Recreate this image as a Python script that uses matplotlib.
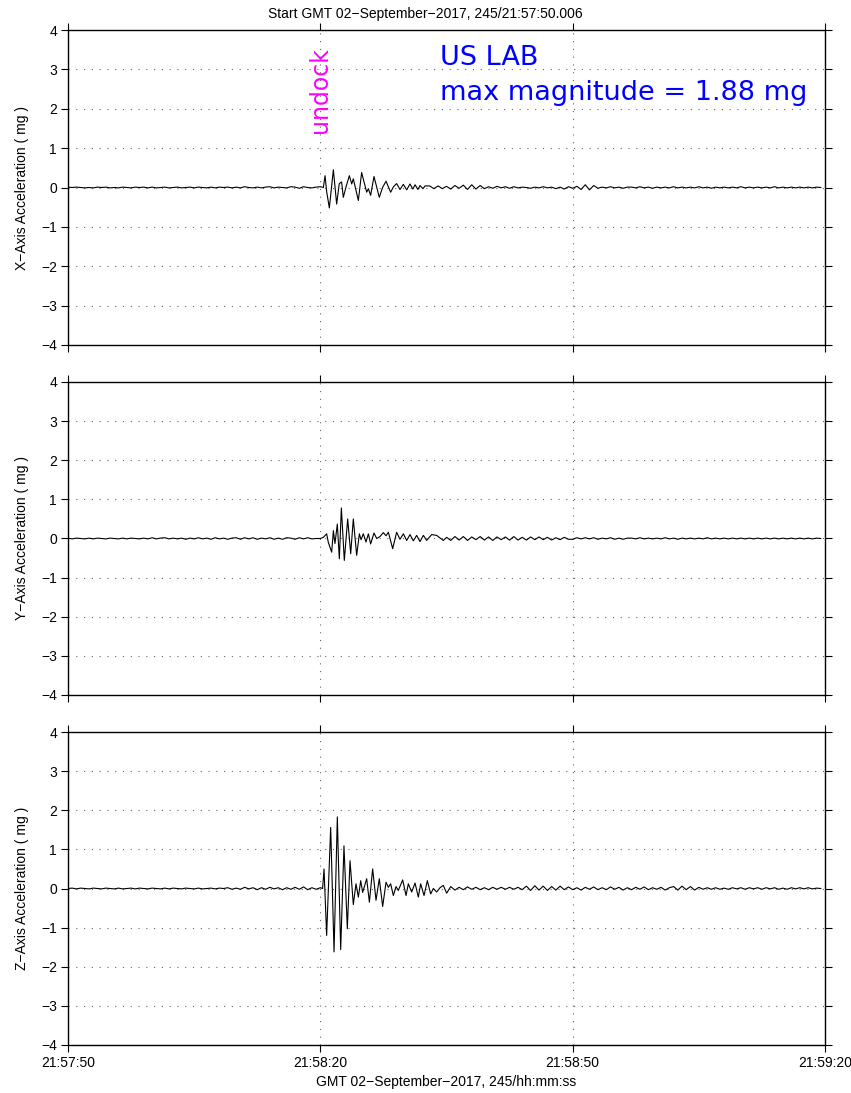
import numpy as np
import matplotlib
matplotlib.use('Agg')
import matplotlib.pyplot as plt

# seconds since 21:57:50
tick_pos = [0, 30, 60, 90]
tick_labels = ['21:57:50', '21:58:20', '21:58:50', '21:59:20']

# X axis -----------------------------------------------------------------
x_pre = [0.01, 0.00, 0.01, 0.00, -0.01, 0.00, -0.01, 0.01, 0.00, 0.01,
         -0.01, 0.00, -0.01, 0.01, 0.00, -0.01, 0.01, 0.00, 0.01, -0.01,
         0.01, -0.01, 0.00, 0.01, -0.01, 0.00, 0.01, -0.01, 0.00, 0.01,
         -0.01, 0.01, 0.00, -0.01, 0.01, -0.01, 0.01, 0.00, 0.01, -0.01,
         0.01, -0.01, 0.02, 0.00, -0.01, 0.01, -0.01, 0.01, 0.02, -0.01,
         0.01, 0.00, -0.01, 0.02, 0.01, -0.02, 0.02, 0.00, -0.01, 0.01]
x_evt_t = [30.0, 30.36, 30.56, 30.75, 31.07, 31.55, 31.94, 32.25, 32.53, 32.73,
           33.10, 33.45, 33.73, 33.92, 34.52, 34.91, 35.51, 35.71, 35.98, 36.38,
           37.01, 37.40, 37.81, 38.36, 38.70, 39.07, 39.47, 39.87, 40.27, 40.66,
           41.00, 41.26, 41.60, 41.85, 42.20, 42.45]
x_evt_v = [0.02, 0.00, 0.30, -0.10, -0.52, 0.45, -0.42, 0.10, 0.14, -0.25,
           0.05, 0.30, 0.09, 0.22, -0.33, 0.38, -0.12, -0.03, -0.20, 0.28,
           -0.25, 0.00, 0.16, -0.12, 0.02, 0.10, -0.05, 0.08, -0.06, 0.09,
           -0.04, 0.07, -0.05, 0.05, -0.03, 0.04]
x_post = [0.04, -0.03, 0.04, -0.03, 0.03, -0.04, 0.05, -0.02,
          0.06, -0.05, 0.07, -0.04, 0.05, -0.03,
          0.02, -0.02, 0.03, -0.01, 0.02, -0.02, 0.02, -0.01, 0.01, 0.00,
          -0.02, 0.01, -0.01, 0.02, -0.01, 0.01,
          -0.03, 0.01, -0.04, 0.02, -0.02, 0.03,
          -0.05, 0.07, -0.06, 0.05,
          -0.02, 0.01, -0.01, 0.02, -0.01, 0.01, -0.02, 0.01, 0.01, -0.01,
          0.02, -0.01, 0.01, -0.02, 0.01, -0.01, 0.01, -0.01, 0.02, -0.01,
          0.01, -0.01, 0.01, -0.01, 0.02, -0.01, 0.01, -0.02, 0.01, -0.01,
          0.01, -0.01, 0.01, -0.01, 0.02, -0.01, 0.01, -0.01, 0.01, -0.01,
          0.01, -0.01, 0.02, -0.01, 0.01, -0.01, 0.01, -0.01, 0.01, -0.01,
          0.01, -0.01, 0.01, 0.00]

# Y axis -----------------------------------------------------------------
y_pre = [0.01, -0.01, 0.01, 0.00, -0.01, 0.01, -0.01, 0.01, 0.00, -0.01,
         0.01, 0.00, -0.01, 0.01, -0.01, 0.01, 0.00, -0.01, 0.01, -0.01,
         0.02, -0.01, 0.01, 0.02, -0.01, 0.01, -0.01, 0.01, -0.02, 0.01,
         -0.01, 0.02, -0.01, 0.01, -0.02, 0.02, -0.01, 0.01, -0.02, 0.01,
         0.02, -0.02, 0.02, -0.01, 0.02, -0.02, 0.01, -0.01, 0.02, -0.02,
         0.01, -0.02, 0.02, 0.01, -0.02, 0.02, -0.01, 0.02, -0.01, 0.00]
y_evt_t = [30.0, 30.36, 30.75, 30.95, 31.35, 31.55, 31.74, 32.02, 32.26, 32.50,
           32.85, 33.25, 33.61, 33.92, 34.32, 34.64, 34.84, 35.11, 35.43, 35.71,
           35.98, 36.38, 36.70, 37.09, 37.49, 37.81, 38.09, 38.60, 39.07, 39.47,
           39.87, 40.27, 40.66, 41.06, 41.45, 41.85, 42.25, 42.64, 43.24, 43.83,
           44.62, 45.02]
y_evt_v = [0.00, 0.03, 0.12, -0.10, -0.35, 0.20, -0.13, 0.37, -0.52, 0.78,
           -0.56, 0.50, -0.39, 0.50, -0.43, 0.12, -0.03, 0.12, -0.09, 0.12,
           -0.14, 0.14, 0.00, 0.05, 0.15, 0.07, 0.16, -0.26, 0.16, -0.02,
           0.12, -0.05, 0.10, -0.06, 0.08, -0.08, 0.08, -0.05, 0.10, 0.08,
           -0.05, 0.03]
y_post = [-0.05, 0.05, -0.04, 0.05, -0.05, 0.04, -0.03, 0.05, -0.04, 0.04,
          -0.05, 0.04, -0.03, 0.04, -0.04, 0.05, -0.04, 0.03, -0.04, 0.04,
          -0.03, 0.04, -0.03, 0.03, -0.04, 0.02, -0.03, 0.03, -0.02,
          -0.02, 0.02, -0.01, 0.02, -0.01, 0.02, -0.02, 0.01, -0.01, 0.02,
          -0.02, 0.01, -0.02, 0.01, 0.01, -0.01, 0.02, -0.01, 0.01, -0.01,
          0.01, -0.01, 0.02, -0.01, 0.01, -0.02, 0.01, -0.01, 0.01, -0.01,
          0.01, -0.01, 0.02, -0.01, 0.01, -0.01, 0.01, -0.01, 0.01, -0.01,
          0.01, -0.01, 0.01, -0.01, 0.01, -0.01, 0.01, -0.01, 0.01, -0.01,
          0.01, -0.01, 0.01, -0.01, 0.01, -0.01, 0.01, -0.01, 0.01, 0.00]

# Z axis -----------------------------------------------------------------
z_pre = [0.00, 0.01, -0.01, 0.01, 0.00, -0.01, 0.01, 0.00, -0.01, 0.01,
         0.00, -0.01, 0.01, -0.01, 0.00, 0.01, -0.01, 0.01, 0.00, -0.01,
         0.01, 0.00, -0.01, 0.01, -0.01, 0.01, 0.00, -0.01, 0.01, 0.00,
         -0.01, 0.01, -0.01, 0.00, 0.01, -0.01, 0.01, 0.00, 0.02, -0.02,
         0.01, -0.02, 0.03, -0.01, 0.02, -0.03, 0.02, -0.02, 0.03, -0.01,
         0.02, -0.03, 0.02, -0.02, 0.03, -0.02, 0.04, -0.03, 0.02, -0.02]
z_evt_t = [30.0, 30.27, 30.44, 30.75, 31.23, 31.63, 32.02, 32.42, 32.81, 33.21,
           33.53, 33.92, 34.24, 34.52, 34.80, 35.03, 35.51, 35.83, 36.22, 36.62,
           37.01, 37.41, 37.81, 38.09, 38.36, 38.68, 39.00, 39.27, 39.79, 40.19,
           40.46, 40.86, 41.26, 41.65, 41.93, 42.33, 42.72, 43.12, 43.43, 43.83,
           44.23, 44.62, 45.02]
z_evt_v = [0.02, 0.00, 0.50, -1.20, 1.56, -1.62, 1.83, -1.56, 1.09, -1.03,
           0.71, -0.41, 0.12, -0.22, 0.20, -0.10, 0.25, -0.35, 0.50, -0.30,
           0.25, -0.46, 0.16, 0.03, 0.12, -0.18, 0.05, -0.05, 0.22, -0.18,
           0.12, -0.09, 0.14, -0.22, 0.12, -0.18, 0.20, -0.14, 0.00, -0.09,
           0.02, 0.08, -0.12]
z_post = [0.05, -0.04, 0.03, -0.03, 0.04, -0.02, 0.03, -0.03, 0.02, -0.03,
          0.03, -0.02, 0.03, -0.02, 0.03, -0.02, 0.03, -0.03,
          0.06, -0.05, 0.07, -0.04, 0.06, -0.05, 0.05, -0.04, 0.06, -0.03, 0.04,
          -0.03, 0.02, -0.04, 0.03, -0.02, 0.04, -0.03, 0.02, -0.03, 0.04,
          -0.02, 0.03, -0.04, 0.02, -0.03, 0.03, -0.02, 0.04, -0.03, 0.02,
          -0.02, 0.03, -0.04, 0.02,
          0.05, -0.04, 0.06, -0.03, 0.05, -0.04, 0.03, -0.02,
          0.02, -0.02, 0.02, -0.02, 0.01, -0.02, 0.02, -0.01, 0.02, -0.02,
          0.02, -0.01, 0.02, -0.02, 0.02, -0.01, 0.02, -0.02, 0.01, -0.02,
          0.02, -0.01, 0.02, -0.01, 0.02, -0.01, 0.01, 0.00]


def build(pre, evt_t, evt_v, post, post_start):
    t = np.concatenate([np.arange(len(pre)) * 0.5, evt_t,
                        post_start + np.arange(len(post)) * 0.5])
    v = np.concatenate([pre, evt_v, post])
    return t, v


traces = [
    build(x_pre, x_evt_t, x_evt_v, x_post, 43.0),
    build(y_pre, y_evt_t, y_evt_v, y_post, 45.5),
    build(z_pre, z_evt_t, z_evt_v, z_post, 45.5),
]
ylabels = ['X\u2212Axis Acceleration ( mg )',
           'Y\u2212Axis Acceleration ( mg )',
           'Z\u2212Axis Acceleration ( mg )']

plt.rcParams['font.family'] = ['Liberation Sans', 'DejaVu Sans']
plt.rcParams['axes.unicode_minus'] = True

fig = plt.figure(figsize=(8.51, 10.93), dpi=100)
W, H = 851.0, 1093.0
panels = [(30, 345), (382, 695), (732, 1045)]

axes = []
for i, (top, bot) in enumerate(panels):
    ax = fig.add_axes([68 / W, 1 - bot / H, 757 / W, (bot - top) / H])
    t, v = traces[i]
    ax.plot(t, v, color='black', lw=0.8)
    ax.set_xlim(0, 90)
    ax.set_ylim(-4, 4)
    ax.set_yticks(range(-4, 5))
    ax.set_xticks(tick_pos)
    if i == 2:
        ax.set_xticklabels(tick_labels)
    else:
        ax.set_xticklabels([])
    ax.tick_params(direction='out', length=5, width=0.8, labelsize=10,
                   top=True, right=True, pad=3)
    ax.grid(True, color='#666666', linestyle=(0, (1, 6)), lw=0.8)
    for s in ax.spines.values():
        s.set_linewidth(1.0)
    fig.text(22 / W, 1 - (top + bot) / 2 / H, ylabels[i], rotation=90,
             ha='center', va='center', fontsize=10)
    axes.append(ax)

ax0 = axes[0]
ax0.text(30, 0.81, 'undock', rotation=90, color='magenta', fontsize=17,
         ha='center', va='center', family='DejaVu Sans',
         transform=ax0.get_xaxis_transform())
ax0.text(0.4914, 0.889, 'US LAB', color='blue', fontsize=19.5,
         family='DejaVu Sans', transform=ax0.transAxes, va='baseline')
ax0.text(0.4914, 0.778, 'max magnitude = 1.88 mg', color='blue', fontsize=19.5,
         family='DejaVu Sans', transform=ax0.transAxes, va='baseline')

fig.text(0.5, 1 - 14 / H, 'Start GMT 02\u2212September\u22122017, 245/21:57:50.006',
         ha='center', va='center', fontsize=10)
fig.text(446 / W, 1 - 1082 / H, 'GMT 02\u2212September\u22122017, 245/hh:mm:ss',
         ha='center', va='center', fontsize=10)

fig.savefig('out.png', dpi=100)
